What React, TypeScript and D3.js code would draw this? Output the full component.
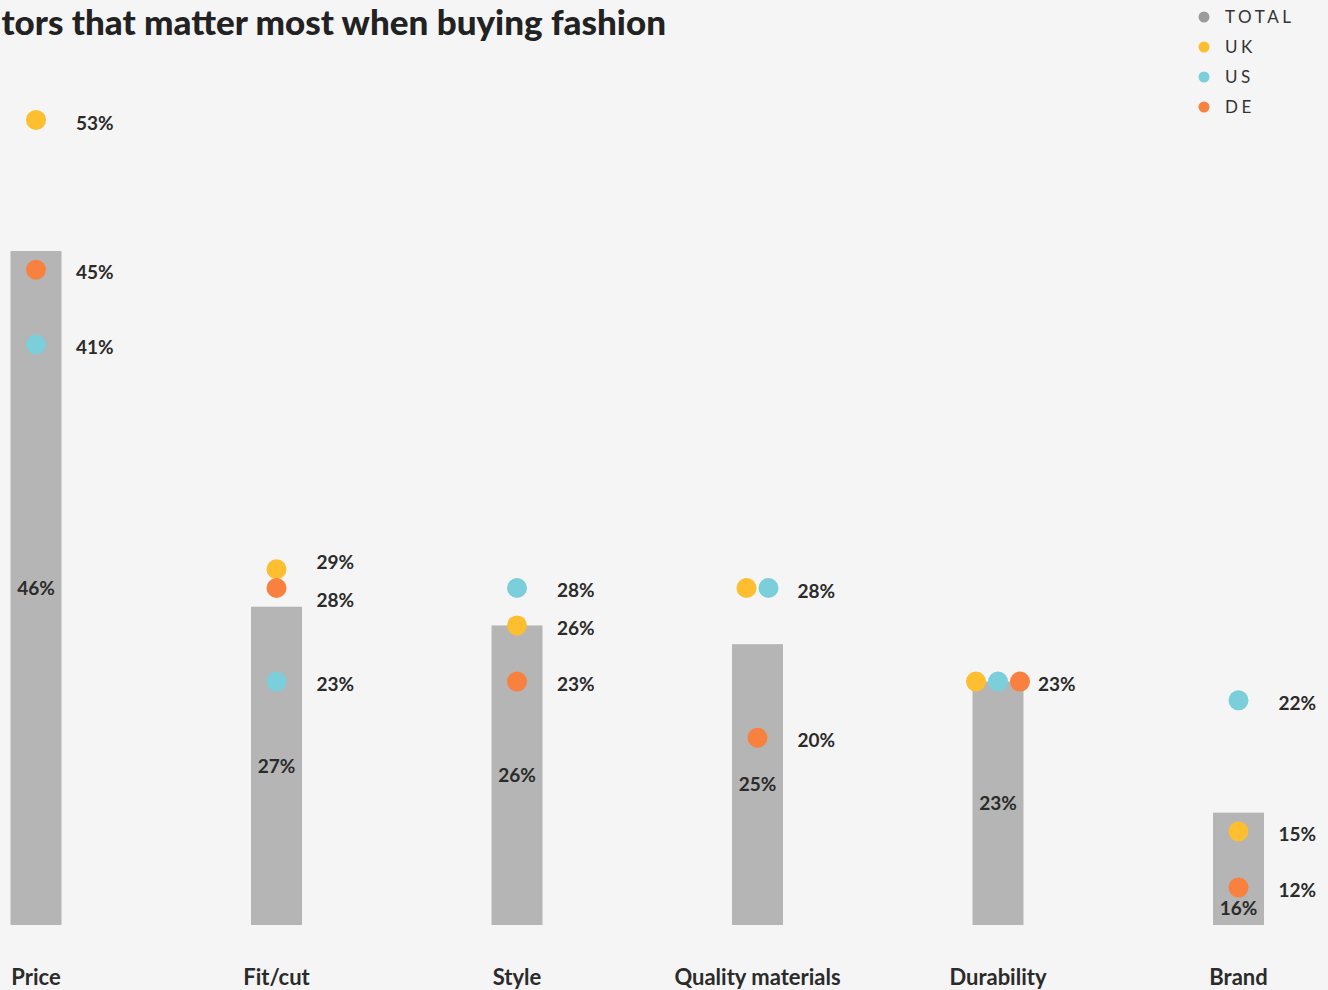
import React from "react";
import * as d3 from "d3";

const categories = ["Price", "Fit/cut", "Style", "Quality materials", "Durability", "Brand"];
const totalValues = [46, 27, 26, 25, 23, 16];
const ukValues = [53, 29, 26, 28, 23, 15];
const usValues = [41, 23, 28, 28, 23, 22];
const deValues = [45, 28, 23, 20, 23, 12];
const legendLabels = ["TOTAL", "UK", "US", "DE"];
const titleText = "tors that matter most when buying fashion";

const W = 1328;
const H = 990;
const BG = "#f5f5f5";
const BAR = "#b5b5b5";
const TXT = "#2b2b2b";
const legendColors = ["#9b9b9b", "#fdbe2f", "#7bcfda", "#f98140"];
const FONT = "Lato, 'Open Sans', sans-serif";

export default function App() {
  const x = d3.scalePoint<string>().domain(categories).range([36, 1238.5]);
  const y = d3.scaleLinear().domain([10, 46]).range([925, 251]);
  const barW = 51;
  const base = y(10);

  const series = [
    { key: "UK", vals: ukValues, color: legendColors[1] },
    { key: "US", vals: usValues, color: legendColors[2] },
    { key: "DE", vals: deValues, color: legendColors[3] },
  ];

  const groups = categories.map((c, i) => {
    const cx = x(c)!;
    const byVal = d3.group(series.map((s) => ({ ...s, v: s.vals[i] })), (d) => d.v);
    const dots: { cx: number; cy: number; color: string; key: string }[] = [];
    byVal.forEach((arr, v) => {
      arr.forEach((d, j) => {
        const off = (j - (arr.length - 1) / 2) * 22;
        dots.push({ cx: cx + off, cy: y(v), color: d.color, key: d.key });
      });
    });
    const uniq = Array.from(byVal.keys()).sort((a, b) => b - a);
    const labels = uniq.map((v) => ({ v, ly: y(v) }));
    const gap = 38;
    for (let iter = 0; iter < 20; iter++) {
      for (let k = 1; k < labels.length; k++) {
        const d = labels[k].ly - labels[k - 1].ly;
        if (d < gap) {
          const push = (gap - d) / 2;
          labels[k].ly += push;
          labels[k - 1].ly -= push;
        }
      }
    }
    const top = y(totalValues[i]);
    let ty = (top + base) / 2;
    if (dots.some((d) => Math.abs(d.cy - ty) < 25)) ty = base - 17;
    return { c, cx, top, ty, dots, labels, total: totalValues[i] };
  });

  return (
    <svg
      width={W}
      height={H}
      style={{ position: "absolute", left: 0, top: 0, display: "block", background: BG }}
      fontFamily={FONT}
    >
      <rect x={0} y={0} width={W} height={H} fill={BG} />
      <text x={666} y={35} textAnchor="end" fontSize={35} fontWeight={900} fill="#222">
        {titleText}
      </text>
      {legendLabels.map((l, i) => (
        <g key={l} transform={`translate(1204, ${17 + i * 30})`}>
          <circle r={5.5} fill={legendColors[i]} />
          <text x={21} dy="0.35em" fontSize={17} letterSpacing={3.6} fill="#333">
            {l}
          </text>
        </g>
      ))}
      {groups.map((g) => (
        <g key={g.c}>
          <rect x={g.cx - barW / 2} y={g.top} width={barW} height={base - g.top} fill={BAR} />
          <text x={g.cx} y={g.ty} dy="0.35em" textAnchor="middle" fontSize={19} fontWeight={700} fill={TXT}>
            {g.total}%
          </text>
          {g.dots.map((d) => (
            <circle key={d.key} cx={d.cx} cy={d.cy} r={10} fill={d.color} />
          ))}
          {g.labels.map((l) => (
            <text key={l.v} x={g.cx + 40} y={l.ly + 3} dy="0.35em" fontSize={19} fontWeight={700} fill={TXT}>
              {l.v}%
            </text>
          ))}
          <text x={g.cx} y={985} textAnchor="middle" fontSize={22} fontWeight={700} fill={TXT}>
            {g.c}
          </text>
        </g>
      ))}
    </svg>
  );
}
